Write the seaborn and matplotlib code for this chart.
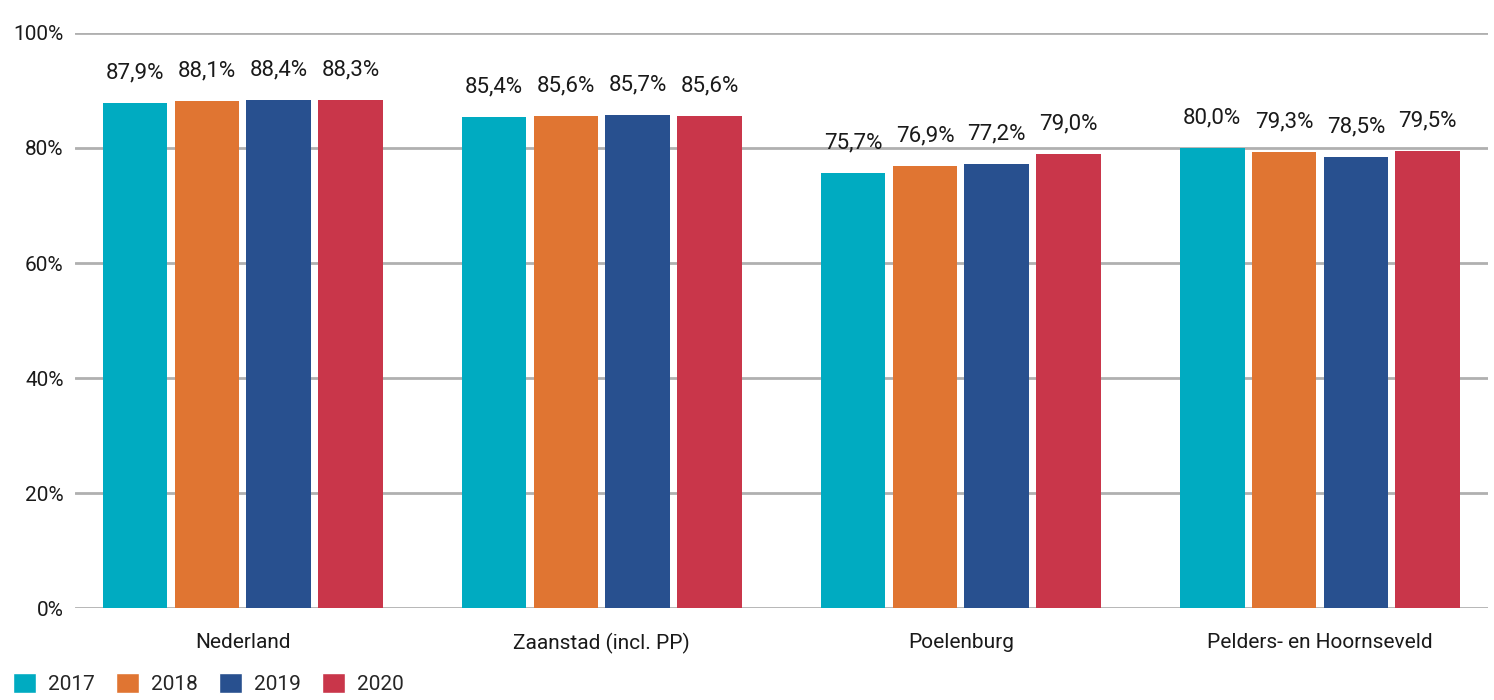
import matplotlib.pyplot as plt
import pandas as pd
import seaborn as sns
from matplotlib.patches import Patch

regions = ["Nederland", "Zaanstad (incl. PP)", "Poelenburg", "Pelders- en Hoornseveld"]
years = ["2017", "2018", "2019", "2020"]
values_2017 = [87.9, 85.4, 75.7, 80.0]
values_2018 = [88.1, 85.6, 76.9, 79.3]
values_2019 = [88.4, 85.7, 77.2, 78.5]
values_2020 = [88.3, 85.6, 79.0, 79.5]
colors = ["#00abc1", "#e07532", "#28508f", "#c9364a"]

series = [values_2017, values_2018, values_2019, values_2020]
df = pd.DataFrame(
    [(r, y, v) for y, vals in zip(years, series) for r, v in zip(regions, vals)],
    columns=["region", "year", "value"],
)

sns.set_style("white")
plt.rcParams["font.family"] = ["Roboto", "DejaVu Sans"]

fig = plt.figure(figsize=(14.94, 7), dpi=100)
ax = fig.add_axes([0.050, 0.131, 0.946, 0.822])

sns.barplot(
    data=df, x="region", y="value", hue="year", order=regions, hue_order=years,
    palette=colors, width=0.8, gap=0.1, saturation=1, ax=ax, legend=False, zorder=3,
    linewidth=0, edgecolor="none",
)

for container in ax.containers:
    ax.bar_label(container, labels=[f"{v:.1f}%".replace(".", ",") for v in container.datavalues],
                 padding=14, fontsize=16, color="#1a1a1a")

ax.set_ylim(0, 100)
ax.set_xlim(-0.468, 3.468)
ax.set_yticks([0, 20, 40, 60, 80, 100])
ax.set_yticklabels([f"{t}%" for t in [0, 20, 40, 60, 80, 100]])
ax.yaxis.grid(True, color="#b0b0b0", linewidth=2, zorder=0)
ax.tick_params(axis="y", length=0, pad=8, labelsize=15, labelcolor="#1a1a1a")
ax.tick_params(axis="x", length=0, pad=18, labelsize=15, labelcolor="#1a1a1a")
ax.set_xlabel("")
ax.set_ylabel("")
sns.despine(ax=ax, left=True, bottom=True, right=True, top=True)

handles = [Patch(facecolor=c, label=y) for c, y in zip(colors, years)]
fig.legend(handles=handles, loc="lower left", bbox_to_anchor=(-0.004, -0.018), ncol=4,
           frameon=False, fontsize=15, handlelength=1.1, handleheight=1.1,
           columnspacing=1.0, handletextpad=0.6)

fig.savefig("out.png", dpi=100)
